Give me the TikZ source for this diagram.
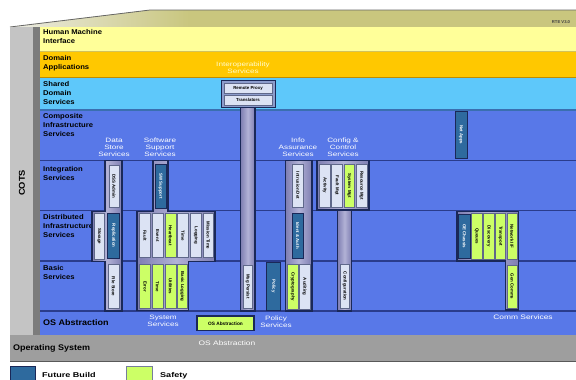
\documentclass[tikz,border=0pt]{standalone}
\usepackage{fontspec}
\setmainfont{Liberation Sans}
\newfontfamily\labelfont[FakeStretch=1.1]{Liberation Sans}
\newfontfamily\capfont[FakeStretch=1.3]{Liberation Sans}
\definecolor{khaki}{HTML}{C9C67E}
\definecolor{roofL}{HTML}{ECECE4}
\definecolor{cots}{HTML}{C4C4C4}
\definecolor{cotsbar}{HTML}{7C7C7C}
\definecolor{hmi}{HTML}{FFFF99}
\definecolor{hmiline}{HTML}{D2C25A}
\definecolor{dapp}{HTML}{FFC800}
\definecolor{dappline}{HTML}{C08C00}
\definecolor{sds}{HTML}{5EC8FA}
\definecolor{sdsline}{HTML}{3A6FB0}
\definecolor{layerblue}{HTML}{5878E8}
\definecolor{sepline}{HTML}{2A3C8C}
\definecolor{colA}{HTML}{7E7EB2}
\definecolor{colB}{HTML}{B2B2D6}
\definecolor{navy}{HTML}{1A2858}
\definecolor{boxwhite}{HTML}{DCE3F4}
\definecolor{safe}{HTML}{CCFF66}
\definecolor{future}{HTML}{2E6A9E}
\definecolor{osgrey}{HTML}{9E9E9E}
\definecolor{proxyfill}{HTML}{8C9CCC}
\tikzset{
  layerlabel/.style={anchor=north west, inner sep=0pt, align=left,
    font=\labelfont\bfseries\fontsize{7}{8.8}\selectfont},
  biglabel/.style={anchor=west, inner sep=0pt,
    font=\labelfont\bfseries\fontsize{8.2}{9}\selectfont},
  caption/.style={inner sep=0pt, align=center, text=white,
    font=\capfont\fontsize{6.3}{6.9}\selectfont},
  colfill/.style={left color=colA, right color=colA, middle color=colB,
    draw=navy, line width=1.1pt},
  wbox/.style={fill=boxwhite, draw=navy!70, line width=0.4pt},
  gbox/.style={fill=safe, draw=navy!70, line width=0.4pt},
  fbox/.style={fill=future, draw=navy, line width=0.6pt},
  vtext/.style={rotate=-90, inner sep=0pt,
    font=\bfseries\fontsize{4.4}{5}\selectfont},
  legendtext/.style={anchor=base west, inner sep=0pt,
    font=\capfont\bfseries\fontsize{7}{8}\selectfont},
  sep/.style={line width=1.4pt}
}
% box with vertical text: [text options]{name}{box style}{x1}{y1}{x2}{y2}{text}
\newcommand\mkbox[8][]{%
  \draw[#3] (#4,#5) rectangle (#6,#7);
  \node[vtext,#1] (#2) at ({(#4+#6)/2},{(#5+#7)/2}) {#8};}
\begin{document}
\begin{tikzpicture}[x=1bp,y=-1bp]
\useasboundingbox (0,0) rectangle (576,379);
\clip (0,0) rectangle (576,379);
\fill[white] (0,0) rectangle (576,379);

% roof
\fill[khaki] (10,27) -- (150,10) -- (576,10) -- (576,27) -- cycle;
\shade[left color=roofL, right color=khaki] (10,27) -- (150,10) -- (190,10) -- (190,27) -- cycle;
\draw[gray!80!black, line width=0.8pt] (10,27) -- (150,10) -- (576,10);

% COTS column
\fill[cots] (10,27) rectangle (33,335);
\fill[cotsbar] (33,27) rectangle (40,335);
\node[rotate=90, inner sep=0pt, font=\labelfont\bfseries\fontsize{8.5}{9}\selectfont] (cotslbl) at (22,183) {COTS};

% layers
\fill[hmi] (40,27) rectangle (576,51.5);
\draw[hmiline, sep] (40,51.5) -- (576,51.5);
\fill[dapp] (40,52.2) rectangle (576,77.5);
\draw[dappline, sep] (40,77.5) -- (576,77.5);
\fill[sds] (40,78.2) rectangle (576,110);
\draw[sdsline, sep] (40,110) -- (576,110);
\fill[layerblue] (40,110.7) rectangle (576,335);
\foreach \yy in {160.5,210.5,261,311}
  \draw[sepline, sep] (40,\yy) -- (576,\yy);
\draw[sepline, line width=0.8pt] (40,335) -- (576,335);

% operating system band
\fill[osgrey] (10,335.4) rectangle (576,361);
\draw[gray!70!black, line width=0.6pt] (10,361) -- (576,361);

% layer labels
\node[layerlabel] (hmilbl) at (43,29.5) {Human Machine\\Interface};
\node[layerlabel] (dalbl) at (43,55.5) {Domain\\Applications};
\node[layerlabel] (sdslbl) at (43,81.5) {Shared\\Domain\\Services};
\node[layerlabel] (cislbl) at (43,113.5) {Composite\\Infrastructure\\Services};
\node[layerlabel] (islbl) at (43,166) {Integration\\Services};
\node[layerlabel] (dislbl) at (43,214.5) {Distributed\\Infrastructure\\Services};
\node[layerlabel] (bslbl) at (43,265.5) {Basic\\Services};
\node[biglabel] (osalbl) at (43,323) {OS Abstraction};
\node[biglabel] (oslbl) at (13,348) {Operating System};
\node[inner sep=0pt, text=black!75, font=\bfseries\fontsize{4.2}{5}\selectfont] (rte) at (561,22) {RTE V3.0};

% interoperability services
\node[caption, text=white!80!yellow] (interop) at (243,68) {Interoperability\\Services};
\draw[fill=proxyfill, draw=navy, line width=1pt] (221,80) rectangle (275,107.5);
\draw[wbox] (224,83) rectangle (272,93.5);
\node[inner sep=0pt, font=\bfseries\fontsize{4.4}{5}\selectfont] (proxy) at (248,88.3) {Remote Proxy};
\draw[wbox] (224,95) rectangle (272,105);
\node[inner sep=0pt, font=\bfseries\fontsize{4.4}{5}\selectfont] (transl) at (248,100) {Translators};
\draw[colfill] (240.5,107.5) rectangle (255,311);
\mkbox{msgp}{wbox}{243}{265}{252.5}{308}{Msg Persist}

% data store services
\node[caption] (dsslbl) at (114,147.5) {Data\\Store\\Services};
\draw[colfill] (105,160.5) -- (122,160.5) -- (122,311) -- (105,311) -- (105,261.5)
  -- (92,261.5) -- (92,211.5) -- (105,211.5) -- cycle;
\mkbox{dssadm}{wbox}{109}{165}{119}{207}{DSS Admin}
\mkbox{storage}{wbox}{94}{213.5}{104.5}{259}{Storage}
\mkbox[text=white]{repl}{fbox}{107.5}{213.5}{119.5}{258}{Replication}
\mkbox{filest}{wbox}{108}{264.5}{119}{308}{File Store}

% software support and system services
\node[caption] (swslbl) at (160,147.5) {Software\\Support\\Services};
\draw[colfill] (153,160.5) -- (168,160.5) -- (168,211.5) -- (215,211.5) -- (215,261.5)
  -- (188.5,261.5) -- (188.5,310.5) -- (137,310.5) -- (137,211.5) -- (153,211.5) -- cycle;
\mkbox[text=white]{swsup}{fbox}{155}{164}{166}{208}{SW Support}
\mkbox{fault}{wbox}{139.5}{213.5}{150.5}{257.5}{Fault}
\mkbox{event}{wbox}{152}{213.5}{163}{257.5}{Event}
\mkbox{hbeat}{gbox}{165}{213.5}{176}{257.5}{Heartbeat}
\mkbox{timeA}{wbox}{177.5}{213.5}{188.5}{257.5}{Time}
\mkbox{logg}{wbox}{190.5}{213.5}{201.5}{257.5}{Logging}
\mkbox{mtime}{wbox}{203}{213.5}{213.5}{257.5}{Mission Time}
\mkbox{error}{gbox}{139.5}{264.5}{150.5}{308.5}{Error}
\mkbox{timeB}{gbox}{152}{264.5}{163}{308.5}{Time}
\mkbox{util}{gbox}{165}{264.5}{176}{308.5}{Utilities}
\mkbox{blog}{gbox}{177.5}{264.5}{187}{308.5}{Basic Logging}
\node[caption] (syslbl) at (163,321) {System\\Services};

% OS abstraction box
\draw[fill=safe, draw=navy, line width=1.1pt] (197,316) rectangle (254,330.5);
\node[inner sep=0pt, font=\bfseries\fontsize{4.8}{5}\selectfont] (osabs) at (225.5,323.3) {OS Abstraction};
\node[caption, font=\capfont\fontsize{6.5}{7}\selectfont] (osband) at (227,343) {OS Abstraction};

% policy
\mkbox[text=white]{policy}{fbox}{266.5}{262.5}{280.5}{310}{Policy}
\node[caption] (pollbl) at (276,322) {Policy\\Services};

% info assurance
\node[caption] (ialbl) at (298,147.5) {Info\\Assurance\\Services};
\draw[colfill] (285.5,160.5) rectangle (312,311);
\mkbox{intr}{wbox}{292.5}{164}{303.5}{207}{Intrusion Det}
\mkbox[text=white]{ident}{fbox}{292}{213.5}{303.5}{258}{Ident \& Auth}
\mkbox{crypto}{gbox}{287.5}{264.5}{298}{309}{Cryptography}
\mkbox{audit}{wbox}{299}{264.5}{310}{309}{Auditing}

% config and control
\node[caption] (cclbl) at (343,147.5) {Config \&\\Control\\Services};
\draw[colfill] (337.5,209) rectangle (351.5,311);
\draw[colfill] (317,160.5) rectangle (369,210);
\mkbox{activ}{wbox}{319.5}{164}{330}{207}{Activity}
\mkbox{faultm}{wbox}{331.5}{164}{342.5}{207}{Fault Mgt}
\mkbox{sysm}{gbox}{344}{164}{354.5}{207}{System Mgt}
\mkbox{resm}{wbox}{356}{164}{367}{207}{Resource Mgt}
\mkbox{config}{wbox}{340}{264.5}{349.5}{308}{Configuration}

% net apps
\mkbox[text=white]{netapps}{fbox}{455}{111.5}{467}{158}{Net Apps}

% comm services
\draw[colfill] (457,211.5) -- (518.5,211.5) -- (518.5,310) -- (505.5,310) -- (505.5,261)
  -- (457,261) -- cycle;
\mkbox[text=white]{oech}{fbox}{458.5}{214}{470.5}{258.5}{OE Chassis}
\mkbox{queues}{gbox}{471.5}{213.5}{482}{259}{Queues}
\mkbox{disc}{gbox}{483.5}{213.5}{494}{259}{Discovery}
\mkbox{transp}{gbox}{495.5}{213.5}{505.5}{259}{Transport}
\mkbox{netif}{gbox}{507}{213.5}{517}{259}{Network I/F}
\mkbox{gencom}{gbox}{507}{265}{517}{308}{Gen Comms}
\node[caption, font=\capfont\fontsize{6.5}{7}\selectfont] (commlbl) at (523,317) {Comm Services};

% legend
\draw[fill=future, draw=navy, line width=0.6pt] (10,366) rectangle (35,382);
\node[legendtext] (legf) at (42,377) {Future Build};
\draw[fill=safe, draw=navy!60, line width=0.6pt] (126,366) rectangle (152,382);
\node[legendtext] (legs) at (160,377) {Safety};
\end{tikzpicture}
\end{document}
